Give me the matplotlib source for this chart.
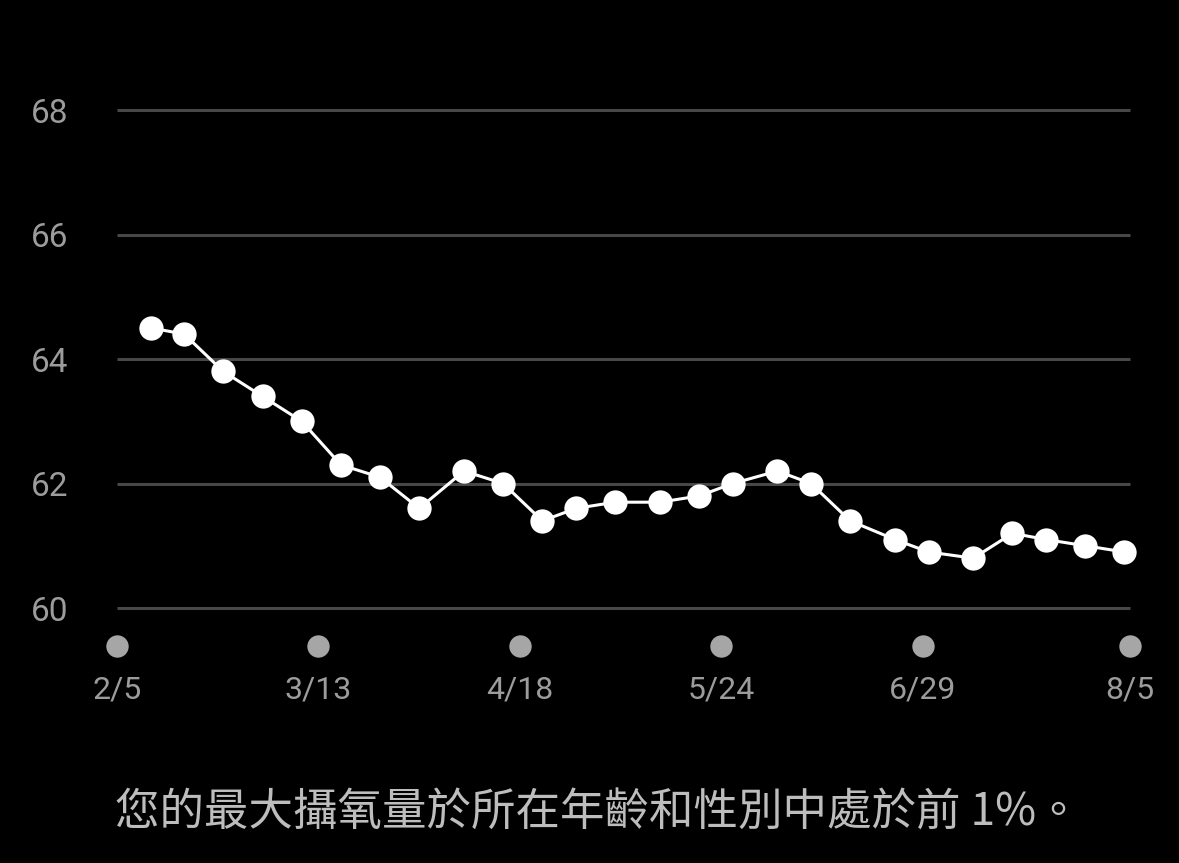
import datetime as dt
import matplotlib
matplotlib.use("Agg")
import matplotlib.pyplot as plt

# weekly VO2max readings
fechas = ["2/11", "2/17", "2/24", "3/3", "3/10", "3/17", "3/24", "3/31",
          "4/8", "4/15", "4/22", "4/28", "5/5", "5/13", "5/20", "5/26",
          "6/3", "6/9", "6/16", "6/24", "6/30", "7/8", "7/15", "7/21",
          "7/28", "8/4"]
vo2 = [64.5, 64.4, 63.8, 63.4, 63.0, 62.3, 62.1, 61.6,
       62.2, 62.0, 61.4, 61.6, 61.7, 61.7, 61.8, 62.0,
       62.2, 62.0, 61.4, 61.1, 60.9, 60.8, 61.2, 61.1,
       61.0, 60.9]
tick_fechas = ["2/5", "3/13", "4/18", "5/24", "6/29", "8/5"]
y_ticks = [60, 62, 64, 66, 68]
texto = "您的最大攝氧量於所在年齡和性別中處於前 1%。"

inicio = dt.date(2023, 2, 5)

def dias(s):
    m, d = s.split("/")
    return (dt.date(2023, int(m), int(d)) - inicio).days

x = [dias(f) for f in fechas]
x_ticks = [dias(f) for f in tick_fechas]

plt.rcParams['font.family'] = ['Roboto', 'DejaVu Sans']

fig = plt.figure(figsize=(11.79, 8.63), dpi=100, facecolor='black')
ax = fig.add_axes([100.2 / 1179, 1 - 670.25 / 863, 1046.6 / 1179, 591.35 / 863])
ax.set_facecolor('black')
ax.set_xlim(-3, 184)
ax.set_ylim(59, 68.5)

ax.hlines(y_ticks, x_ticks[0], x_ticks[-1], color='#474747', linewidth=2.2, zorder=1)
ax.plot(x, vo2, color='white', linewidth=2.2, marker='o', markersize=17.5,
        markerfacecolor='white', markeredgewidth=0, zorder=3, clip_on=False)
ax.scatter(x_ticks, [59.39] * len(x_ticks), s=260, color='#a6a6a6', linewidths=0,
           zorder=2, clip_on=False)

for s in ax.spines.values():
    s.set_visible(False)
ax.set_yticks(y_ticks)
ax.set_yticklabels([str(v) for v in y_ticks])
ax.set_xticks(x_ticks)
ax.set_xticklabels(tick_fechas)
ax.tick_params(axis='y', length=0, pad=23, labelsize=24, labelcolor='#9c9c9c')
ax.tick_params(axis='x', length=0, pad=4, labelsize=23, labelcolor='#9c9c9c')

fig.text(115 / 1179, 1 - 812 / 863, texto, color='#bdbdbd', fontsize=32,
         ha='left', va='center', family=['Noto Sans CJK TC', 'DejaVu Sans'])

fig.savefig("out.png", dpi=100, facecolor='black')
